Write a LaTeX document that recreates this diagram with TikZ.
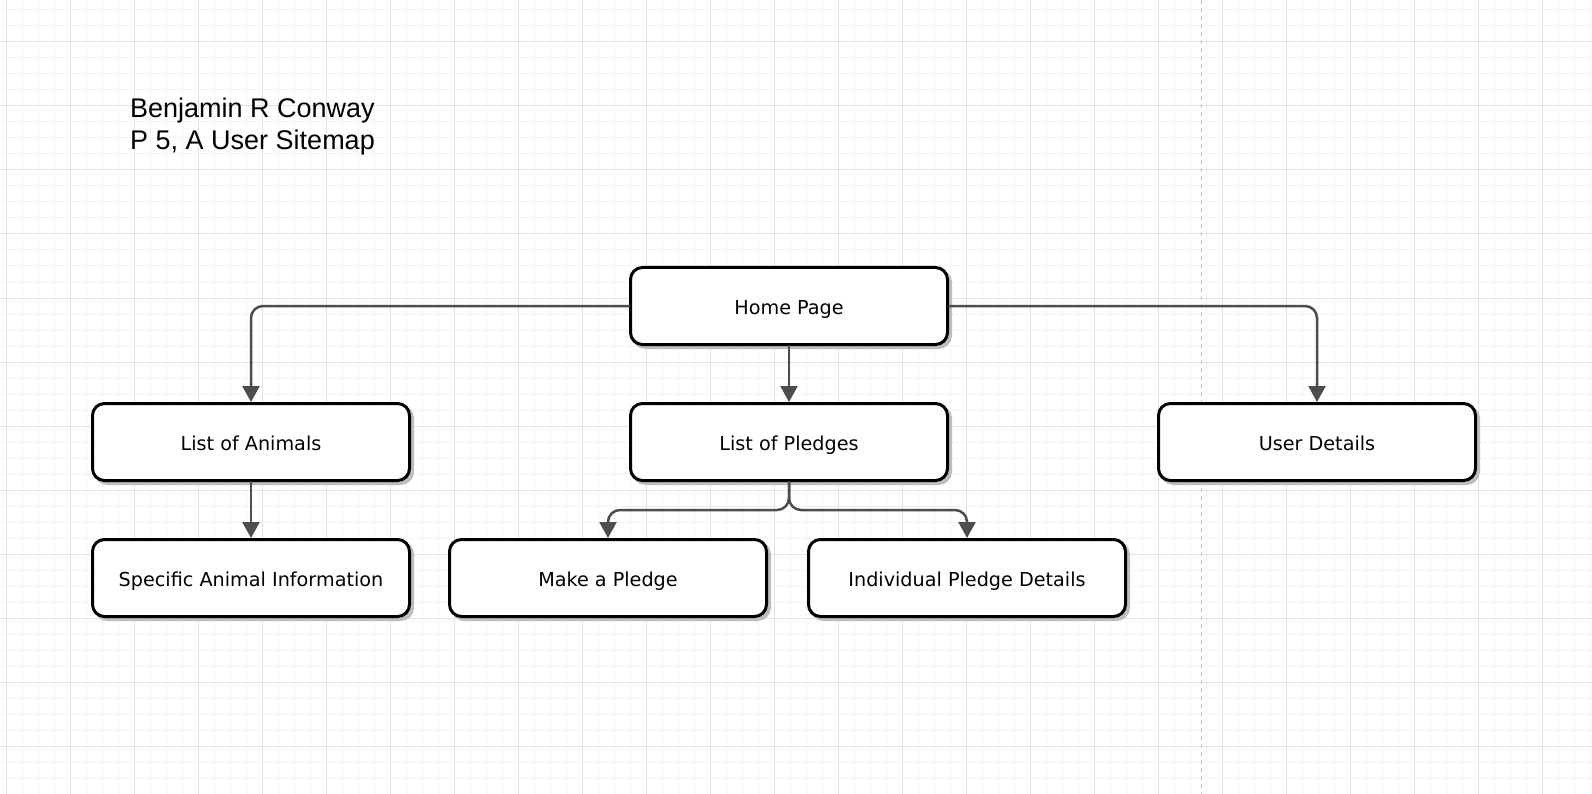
\documentclass[tikz,border=0pt]{standalone}
\usepackage{fontspec}
\setmainfont{Liberation Sans}
\newfontfamily\boxfont{DejaVu Sans}
\usetikzlibrary{arrows.meta,shadows}
\definecolor{edgegray}{HTML}{4D4D4D}
\definecolor{gridmajor}{HTML}{E2E2E2}
\definecolor{gridminor}{HTML}{F4F4F4}
\definecolor{shadowgray}{HTML}{BDBDBD}
\definecolor{pageline}{HTML}{C4C4C4}
\begin{document}
\begin{tikzpicture}[x=1pt, y=-1pt, line cap=round, line join=round, >={Triangle[length=16pt,width=17pt]}]
	\tikzset{page/.style={draw=black, fill=white, line width=3pt, rounded corners=12pt, minimum width=317pt, minimum height=77pt, inner sep=0pt,
			text height=20pt, text depth=4pt, font=\boxfont\fontsize{19.2}{23}\selectfont,
			drop shadow={shadow xshift=3pt, shadow yshift=-3pt, fill=shadowgray, draw=shadowgray, line width=3pt, opacity=1}},
		link/.style={draw=edgegray, line width=2.5pt, rounded corners=12pt, ->}}
	\useasboundingbox (0,0) rectangle (1592,794);
	\fill[white] (0,0) rectangle (1592,794);
	% grid
	\foreach \x in {6,22,...,1590} \draw[gridminor, line width=1pt] (\x,0)--(\x,794);
	\foreach \y in {10,26,...,794} \draw[gridminor, line width=1pt] (0,\y)--(1592,\y);
	\foreach \x in {6,70,...,1590} \draw[gridmajor, line width=1pt] (\x,0)--(\x,794);
	\foreach \y in {42,106,...,794} \draw[gridmajor, line width=1pt] (0,\y)--(1592,\y);
	\draw[pageline, line width=1pt, line cap=butt, dash pattern=on 4pt off 4pt] (1201,0)--(1201,794);
	% title
	\node[anchor=north west, inner sep=0pt, align=left, font=\fontsize{27}{32}\selectfont] (title) at (130,98) {Benjamin R Conway\\P 5, A User Sitemap};
	% pages
	\node[page] (home) at (789,306) {Home Page};
	\node[page] (animals) at (251,442) {List of Animals};
	\node[page] (pledges) at (789,442) {List of Pledges};
	\node[page] (user) at (1317,442) {User Details};
	\node[page] (specific) at (251,578) {Specific Animal Information};
	\node[page] (make) at (608,578) {Make a Pledge};
	\node[page] (detail) at (967,578) {Individual Pledge Details};
	% links
	\draw[link] (home.west) -| (animals.north);
	\draw[link] (home.east) -| (user.north);
	\draw[link] (home.south) -- (pledges.north);
	\draw[link] (animals.south) -- (specific.north);
	\draw[link] (pledges.south) -- ++(0,28) -| (make.north);
	\draw[link] (pledges.south) -- ++(0,28) -| (detail.north);
\end{tikzpicture}
\end{document}
